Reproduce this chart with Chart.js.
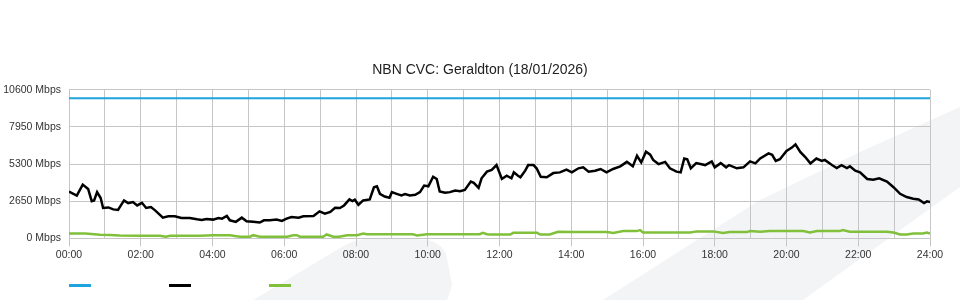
<!DOCTYPE html>
<html>
<head>
<meta charset="utf-8">
<script src="https://cdn.jsdelivr.net/npm/chart.js@4/dist/chart.umd.min.js"></script>
<style>
    html, body { margin: 0; padding: 0; background: #fff; }
    #wrap { width: 960px; height: 300px; position: relative; }
</style>
</head>
<body>
<div id="wrap"><canvas id="chart"></canvas></div>
<script>
// Dane (czas w minutach od północy, wartości w Mbps)
const chartTitle = "NBN CVC: Geraldton (18/01/2026)";
const yTicks = [0, 2650, 5300, 7950, 10600];

const capacityTimes = [0, 1440];
const capacityValues = [10000, 10000];

const downTimes = [0, 13, 23, 32, 38, 42, 47, 53, 57, 66, 74, 82, 92, 99, 107, 114, 122, 129, 137, 144,
    157, 166, 177, 188, 202, 214, 222, 230, 241, 250, 256, 264, 269, 279, 289, 297, 308, 319, 326, 336,
    347, 356, 364, 372, 384, 392, 409, 419, 428, 437, 445, 453, 460, 469, 474, 478, 484, 492, 503, 510,
    515, 520, 528, 536, 540, 548, 556, 562, 570, 579, 587, 594, 601, 609, 615, 620, 629, 637, 646, 654,
    662, 672, 677, 685, 690, 699, 707, 715, 724, 732, 740, 744, 751, 755, 763, 768, 777, 782, 789, 799,
    810, 821, 832, 841, 852, 860, 869, 880, 889, 899, 910, 922, 933, 943, 950, 957, 965, 972, 977, 986,
    997, 1005, 1016, 1023, 1029, 1034, 1040, 1049, 1064, 1075, 1080, 1090, 1099, 1104, 1117, 1128, 1139, 1148, 1156, 1170,
    1176, 1182, 1189, 1200, 1209, 1215, 1223, 1231, 1240, 1250, 1259, 1264, 1276, 1284, 1292, 1301, 1306, 1315, 1323, 1335,
    1345, 1355, 1368, 1379, 1390, 1401, 1412, 1421, 1430, 1435, 1440];
const downValues = [3340, 3060, 3840, 3530, 2660, 2710, 3300, 2880, 2170, 2210, 2070, 2030, 2710, 2520, 2590, 2350, 2540, 2170, 2240, 2000,
    1480, 1580, 1580, 1460, 1460, 1360, 1320, 1390, 1340, 1460, 1410, 1600, 1290, 1180, 1480, 1220, 1180, 1130, 1290, 1290,
    1340, 1250, 1410, 1530, 1480, 1580, 1600, 1930, 1770, 1890, 2190, 2170, 2350, 2780, 2660, 2760, 2400, 2710, 2780, 3650,
    3720, 3180, 2990, 2900, 3300, 3180, 3060, 3160, 3060, 3110, 3300, 3770, 3720, 4400, 4240, 3340, 3250, 3300, 3410, 3370,
    3460, 4050, 3960, 3600, 4290, 4760, 4880, 5230, 4240, 4470, 4290, 4710, 4470, 4360, 4830, 5230, 5230, 5000, 4400, 4360,
    4660, 4710, 4900, 4710, 5000, 5070, 4760, 4830, 4950, 4710, 4950, 5140, 5460, 5140, 5890, 5420, 6180, 5970, 5600, 5300,
    5460, 5000, 4760, 4710, 5700, 5650, 5000, 5370, 5230, 5490, 5070, 5370, 5070, 5230, 5000, 5070, 5490, 5350, 5700, 6060,
    5960, 5530, 5650, 6240, 6480, 6710, 6170, 5820, 5350, 5700, 5530, 5600, 5230, 5020, 5230, 5020, 5140, 4830, 4710, 4240,
    4190, 4290, 4050, 3650, 3180, 2950, 2830, 2780, 2520, 2640, 2590];

const upTimes = [0, 27, 32, 52, 69, 85, 119, 152, 162, 169, 219, 241, 269, 286, 303, 308, 319, 365, 375, 381,
    386, 425, 431, 442, 452, 465, 482, 492, 498, 537, 575, 582, 599, 687, 692, 699, 704, 738, 743, 754,
    783, 788, 804, 818, 843, 900, 910, 927, 950, 955, 960, 1039, 1050, 1077, 1094, 1105, 1134, 1139, 1156, 1172,
    1228, 1239, 1251, 1289, 1294, 1306, 1311, 1368, 1379, 1390, 1401, 1412, 1428, 1435, 1440];
const upValues = [350, 350, 330, 260, 250, 210, 190, 190, 120, 190, 190, 230, 230, 120, 120, 230, 120, 120, 230, 230,
    120, 120, 280, 120, 120, 230, 230, 350, 300, 300, 300, 210, 300, 300, 400, 300, 280, 280, 400, 400,
    400, 280, 280, 470, 450, 450, 380, 520, 520, 590, 420, 420, 500, 500, 380, 450, 450, 520, 470, 520,
    520, 420, 520, 520, 590, 470, 470, 470, 420, 280, 280, 350, 350, 420, 350];

const toPoints = (times, values) => times.map((t, i) => ({ x: t, y: values[i] }));
const hourLabel = (m) => String(m / 60).padStart(2, "0") + ":00";

const gridColor = "#c6c6c6";
const textColor = "#333";
const font = "'Liberation Sans', Arial, sans-serif";

// jasny znak wodny w tle
const watermark = {
    id: "watermark",
    beforeDraw(chart) {
        const ctx = chart.ctx;
        ctx.save();
        ctx.fillStyle = "#f3f4f6";
        ctx.beginPath();
        ctx.moveTo(603, 300);
        ctx.lineTo(700, 238);
        ctx.lineTo(760, 200);
        ctx.lineTo(860, 152);
        ctx.lineTo(960, 107);
        ctx.lineTo(960, 187);
        ctx.lineTo(803, 300);
        ctx.closePath();
        ctx.fill();
        ctx.beginPath();
        ctx.moveTo(253, 300);
        ctx.lineTo(347, 244);
        ctx.quadraticCurveTo(365, 236, 400, 238);
        ctx.lineTo(428, 240);
        ctx.quadraticCurveTo(444, 244, 447, 258);
        ctx.lineTo(452, 285);
        ctx.lineTo(447, 300);
        ctx.closePath();
        ctx.fill();
        ctx.restore();
    },
};

// legenda: same kreski, bez opisów
const lineLegend = {
    id: "lineLegend",
    afterDraw(chart) {
        const ctx = chart.ctx;
        ctx.save();
        chart.data.datasets.forEach((ds, i) => {
            ctx.fillStyle = ds.borderColor;
            ctx.fillRect(69 + i * 100, 284, 22, 3);
        });
        ctx.restore();
    },
};

new Chart(document.getElementById("chart"), {
    type: "line",
    data: {
        datasets: [
            {
                label: "Capacity",
                data: toPoints(capacityTimes, capacityValues),
                borderColor: "#1fa3df",
                borderWidth: 2,
                pointRadius: 0,
            },
            {
                label: "Download",
                data: toPoints(downTimes, downValues),
                borderColor: "#000000",
                borderWidth: 2.5,
                pointRadius: 0,
            },
            {
                label: "Upload",
                data: toPoints(upTimes, upValues),
                borderColor: "#80c03a",
                borderWidth: 2.5,
                pointRadius: 0,
            },
        ],
    },
    options: {
        responsive: true,
        maintainAspectRatio: false,
        animation: false,
        layout: { padding: { left: 0, right: 0, top: 0, bottom: 37 } },
        plugins: {
            legend: { display: false },
            tooltip: { enabled: false },
            title: {
                display: true,
                text: chartTitle,
                color: "#222",
                font: { family: font, size: 14, weight: "normal" },
                padding: { top: 62, bottom: 11 },
            },
        },
        scales: {
            x: {
                type: "linear",
                min: 0,
                max: 1440,
                grid: {
                    color: gridColor,
                    tickLength: 8,
                    tickColor: (c) => (c.tick && c.tick.value % 120 === 0 ? gridColor : "rgba(0,0,0,0)"),
                },
                border: { color: gridColor },
                ticks: {
                    stepSize: 60,
                    autoSkip: false,
                    maxRotation: 0,
                    padding: 2,
                    color: textColor,
                    font: { family: font, size: 10.5 },
                    callback: (v) => (v % 120 === 0 ? hourLabel(v) : ""),
                },
            },
            y: {
                min: 0,
                max: 10600,
                afterBuildTicks: (s) => { s.ticks = yTicks.map((v) => ({ value: v })); },
                afterFit: (s) => { s.width = 69; },
                grid: { color: gridColor, drawTicks: false },
                border: { color: gridColor },
                ticks: {
                    padding: 8,
                    color: textColor,
                    font: { family: font, size: 10.5 },
                    callback: (v) => v + " Mbps",
                },
            },
            // pusta oś po prawej, tylko jako margines
            yRight: {
                position: "right",
                min: 0,
                max: 10600,
                afterFit: (s) => { s.width = 30; },
                grid: { display: false, drawTicks: false },
                border: { display: false },
                ticks: { display: false },
            },
        },
    },
    plugins: [watermark, lineLegend],
});
</script>
</body>
</html>
